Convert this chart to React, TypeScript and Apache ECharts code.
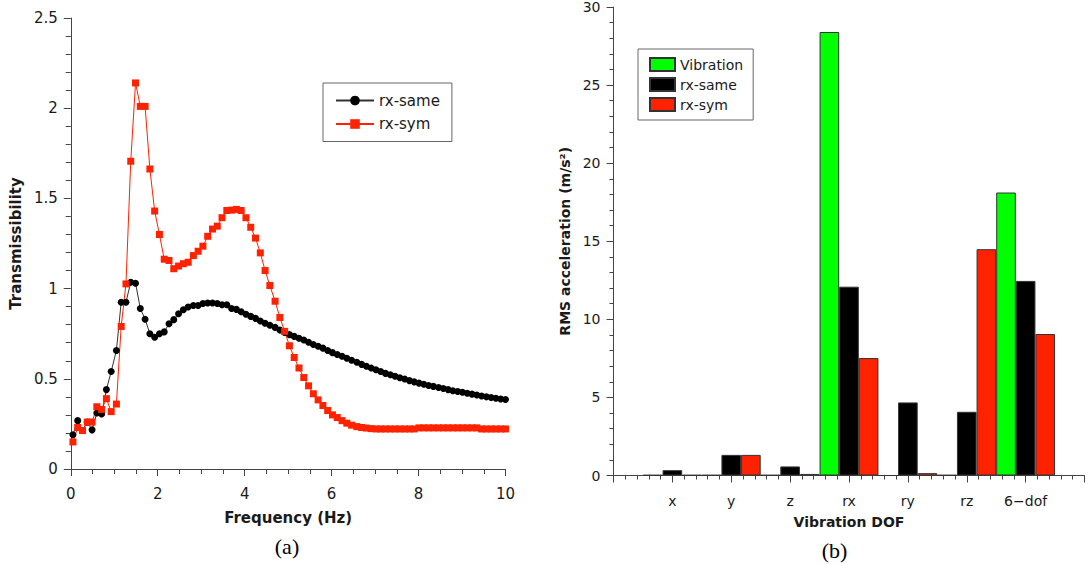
import React, { useEffect, useRef } from "react";
import * as echarts from "echarts";

// ---------- Panel (a): transmissibility ----------
const FREQ = [
  0.05, 0.16, 0.27, 0.38, 0.49, 0.6, 0.71, 0.82, 0.93, 1.05,
  1.16, 1.27, 1.38, 1.49, 1.6, 1.71, 1.82, 1.93, 2.04, 2.15,
  2.26, 2.37, 2.48, 2.59, 2.7, 2.82, 2.93, 3.04, 3.15, 3.26,
  3.37, 3.48, 3.59, 3.7, 3.81, 3.92, 4.03, 4.14, 4.25, 4.36,
  4.47, 4.58, 4.7, 4.81, 4.92, 5.03, 5.14, 5.25, 5.36, 5.47,
  5.58, 5.69, 5.8, 5.91, 6.02, 6.13, 6.24, 6.35, 6.46, 6.58,
  6.69, 6.8, 6.91, 7.02, 7.13, 7.24, 7.35, 7.46, 7.57, 7.68,
  7.79, 7.9, 8.01, 8.12, 8.23, 8.34, 8.46, 8.57, 8.68, 8.79,
  8.9, 9.01, 9.12, 9.23, 9.34, 9.45, 9.56, 9.67, 9.78, 9.89,
  10.0,
];

const RX_SAME = [
  0.19, 0.268, 0.213, 0.26, 0.217, 0.31, 0.305, 0.44, 0.54, 0.657,
  0.924, 0.924, 1.035, 1.03, 0.89, 0.83, 0.75, 0.73, 0.75, 0.76,
  0.805, 0.828, 0.861, 0.883, 0.898, 0.906, 0.906, 0.917, 0.92, 0.92,
  0.917, 0.91, 0.91, 0.89, 0.885, 0.872, 0.858, 0.846, 0.835, 0.82,
  0.808, 0.797, 0.785, 0.77, 0.757, 0.745, 0.735, 0.725, 0.715, 0.703,
  0.69, 0.68, 0.67, 0.657, 0.645, 0.635, 0.625, 0.614, 0.603, 0.592,
  0.58, 0.57, 0.56, 0.55, 0.54, 0.53, 0.522, 0.514, 0.506, 0.499,
  0.49, 0.483, 0.476, 0.47, 0.463, 0.458, 0.452, 0.446, 0.44, 0.434,
  0.43, 0.425, 0.42, 0.415, 0.41, 0.405, 0.4, 0.396, 0.392, 0.388,
  0.385,
];

const RX_SYM = [
  0.15, 0.23, 0.213, 0.26, 0.26, 0.345, 0.33, 0.39, 0.318, 0.36,
  0.79, 1.026, 1.706, 2.14, 2.01, 2.01, 1.663, 1.43, 1.3, 1.163,
  1.156, 1.11, 1.125, 1.138, 1.146, 1.183, 1.207, 1.235, 1.29, 1.33,
  1.346, 1.393, 1.433, 1.435, 1.439, 1.433, 1.393, 1.34, 1.28, 1.198,
  1.1, 1.017, 0.93, 0.84, 0.763, 0.683, 0.618, 0.56, 0.507, 0.461,
  0.417, 0.383, 0.352, 0.324, 0.3, 0.285, 0.268, 0.254, 0.243, 0.235,
  0.23, 0.227, 0.224, 0.222, 0.222, 0.222, 0.222, 0.222, 0.222, 0.222,
  0.222, 0.222, 0.228, 0.228, 0.228, 0.228, 0.228, 0.228, 0.228, 0.228,
  0.228, 0.228, 0.228, 0.228, 0.228, 0.222, 0.222, 0.222, 0.222, 0.222,
  0.222,
];

// ---------- Panel (b): RMS acceleration ----------
const DOF = ["x", "y", "z", "rx", "ry", "rz", "6\u2212dof"];
const VIBRATION = [0.03, 0.03, 0.03, 28.4, 0, 0.03, 18.12];
const RX_SAME_RMS = [0.34, 1.32, 0.58, 12.09, 4.68, 4.08, 12.46];
const RX_SYM_RMS = [0.03, 1.32, 0.1, 7.52, 0.15, 14.49, 9.06];

const FONT = "DejaVu Sans";
const AXIS_COLOR = "#444";
const TEXT_COLOR = "#1a1a1a";
const RED = "#ff2200";
const GREEN = "#00ff00";

function buildLeft() {
  return {
    animation: false,
    backgroundColor: "#ffffff",
    grid: { left: 65.5, top: 18, width: 440, height: 451 },
    xAxis: {
      type: "value",
      min: 0,
      max: 10,
      interval: 2,
      name: "Frequency (Hz)",
      nameLocation: "middle",
      nameGap: 41,
      nameTextStyle: { fontFamily: FONT, fontSize: 15, fontWeight: "bold", color: TEXT_COLOR },
      axisLine: { show: true, lineStyle: { color: AXIS_COLOR, width: 1 } },
      axisTick: { show: true, length: 7, lineStyle: { color: AXIS_COLOR } },
      minorTick: { show: true, splitNumber: 4, length: 5, lineStyle: { color: AXIS_COLOR } },
      splitLine: { show: false },
      axisLabel: { fontFamily: FONT, fontSize: 15, color: TEXT_COLOR, margin: 17 },
    },
    yAxis: {
      type: "value",
      min: 0,
      max: 2.5,
      interval: 0.5,
      name: "Transmissibility",
      nameLocation: "middle",
      nameRotate: 90,
      nameGap: 37,
      nameTextStyle: { fontFamily: FONT, fontSize: 15, fontWeight: "bold", color: TEXT_COLOR },
      axisLine: { show: true, lineStyle: { color: AXIS_COLOR, width: 1 } },
      axisTick: { show: true, length: 7, lineStyle: { color: AXIS_COLOR } },
      minorTick: { show: true, splitNumber: 5, length: 5, lineStyle: { color: AXIS_COLOR } },
      splitLine: { show: false },
      axisLabel: { fontFamily: FONT, fontSize: 15, color: TEXT_COLOR, margin: 13 },
    },
    legend: {
      left: 323,
      top: 83,
      orient: "vertical",
      itemWidth: 38,
      itemHeight: 12,
      itemGap: 8.5,
      padding: [10, 12, 10, 12],
      borderColor: "#666",
      borderWidth: 1,
      backgroundColor: "#fff",
      textStyle: { fontFamily: FONT, fontSize: 15, color: TEXT_COLOR },
      data: ["rx-same", "rx-sym"],
    },
    series: [
      {
        type: "line",
        name: "rx-same",
        data: FREQ.map((f, i) => [f, RX_SAME[i]]),
        symbol: "circle",
        symbolSize: 7,
        itemStyle: { color: "#000000" },
        lineStyle: { color: "#333333", width: 1 },
      },
      {
        type: "line",
        name: "rx-sym",
        data: FREQ.map((f, i) => [f, RX_SYM[i]]),
        symbol: "rect",
        symbolSize: 7,
        itemStyle: { color: RED },
        lineStyle: { color: RED, width: 1 },
      },
    ],
    graphic: [
      {
        type: "text",
        x: 287,
        y: 546,
        style: {
          text: "(a)",
          fontFamily: "Liberation Serif",
          fontSize: 22,
          fill: "#000",
          align: "center",
          verticalAlign: "middle",
        },
      },
    ],
  };
}

function buildRight() {
  const cats = ["", ...DOF, ""];
  const pad = (arr: number[]) => ["-", ...arr, "-"];
  const barBase = {
    type: "bar",
    xAxisIndex: 0,
    yAxisIndex: 0,
    barGap: "0%",
    barCategoryGap: "0%",
  };
  return {
    animation: false,
    backgroundColor: "#ffffff",
    grid: { left: 69.5, top: 7, width: 471, height: 468.5 },
    xAxis: [
      {
        type: "category",
        data: cats,
        boundaryGap: false,
        position: "bottom",
        name: "Vibration DOF",
        nameLocation: "middle",
        nameGap: 39,
        nameTextStyle: { fontFamily: FONT, fontSize: 14, fontWeight: "bold", color: TEXT_COLOR },
        axisLine: { show: true, lineStyle: { color: AXIS_COLOR, width: 1 } },
        axisTick: { show: false },
        splitLine: { show: false },
        axisLabel: { fontFamily: FONT, fontSize: 14, color: TEXT_COLOR, margin: 18, interval: 0 },
      },
      {
        type: "value",
        min: 0,
        max: 8,
        interval: 1,
        position: "bottom",
        axisLine: { show: false },
        axisLabel: { show: false },
        axisTick: { show: true, length: 7, lineStyle: { color: AXIS_COLOR } },
        minorTick: { show: true, splitNumber: 5, length: 4, lineStyle: { color: AXIS_COLOR } },
        splitLine: { show: false },
      },
    ],
    yAxis: {
      type: "value",
      min: 0,
      max: 30,
      interval: 5,
      name: "RMS acceleration (m/s\u00b2)",
      nameLocation: "middle",
      nameRotate: 90,
      nameGap: 27,
      nameTextStyle: { fontFamily: FONT, fontSize: 14, fontWeight: "bold", color: TEXT_COLOR },
      axisLine: { show: true, lineStyle: { color: AXIS_COLOR, width: 1 } },
      axisTick: { show: true, length: 7, lineStyle: { color: AXIS_COLOR } },
      minorTick: { show: true, splitNumber: 5, length: 4, lineStyle: { color: AXIS_COLOR } },
      splitLine: { show: false },
      axisLabel: { fontFamily: FONT, fontSize: 14, color: TEXT_COLOR, margin: 13 },
    },
    legend: {
      left: 94,
      top: 49,
      orient: "vertical",
      icon: "rect",
      itemWidth: 25,
      itemHeight: 13,
      itemGap: 5,
      padding: [8, 10, 8, 11],
      borderColor: "#666",
      borderWidth: 1,
      backgroundColor: "#fff",
      textStyle: { fontFamily: FONT, fontSize: 14, color: TEXT_COLOR },
      data: ["Vibration", "rx-same", "rx-sym"],
    },
    series: [
      {
        ...barBase,
        name: "Vibration",
        data: pad(VIBRATION),
        itemStyle: { color: GREEN, borderColor: "#333", borderWidth: 1 },
      },
      {
        ...barBase,
        name: "rx-same",
        data: pad(RX_SAME_RMS),
        itemStyle: { color: "#000000", borderColor: "#333", borderWidth: 1 },
      },
      {
        ...barBase,
        name: "rx-sym",
        data: pad(RX_SYM_RMS),
        itemStyle: { color: RED, borderColor: "#333", borderWidth: 1 },
      },
    ],
    graphic: [
      {
        type: "text",
        x: 834.6 - 544,
        y: 550,
        style: {
          text: "(b)",
          fontFamily: "Liberation Serif",
          fontSize: 22,
          fill: "#000",
          align: "center",
          verticalAlign: "middle",
        },
      },
    ],
  };
}

export default function App() {
  const leftRef = useRef<HTMLDivElement>(null);
  const rightRef = useRef<HTMLDivElement>(null);

  useEffect(() => {
    if (!leftRef.current || !rightRef.current) return;
    const left = echarts.init(leftRef.current, undefined, { renderer: "svg" });
    const right = echarts.init(rightRef.current, undefined, { renderer: "svg" });
    left.setOption(buildLeft() as any);
    right.setOption(buildRight() as any);
    return () => {
      left.dispose();
      right.dispose();
    };
  }, []);

  return (
    <div
      style={{
        position: "fixed",
        left: 0,
        top: 0,
        width: 1088,
        height: 565,
        background: "#fff",
        overflow: "hidden",
      }}
    >
      <div ref={leftRef} style={{ position: "absolute", left: 0, top: 0, width: 544, height: 565 }} />
      <div ref={rightRef} style={{ position: "absolute", left: 544, top: 0, width: 544, height: 565 }} />
    </div>
  );
}
